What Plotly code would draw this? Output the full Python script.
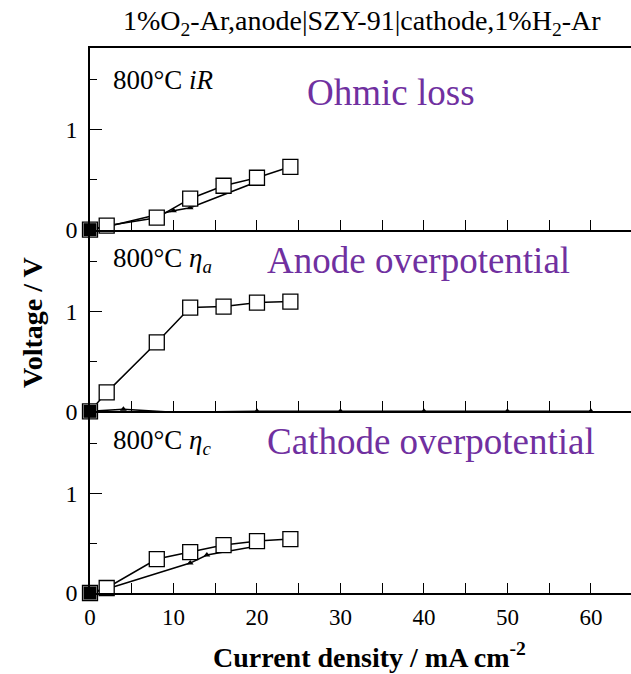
import plotly.graph_objects as go
from plotly.subplots import make_subplots

# ---- data ----
current = [0, 2, 8, 12, 16, 20, 24]
ohmic_open = [0, 0.04, 0.12, 0.31, 0.44, 0.52, 0.63]
anode_open = [0, 0.19, 0.69, 1.04, 1.05, 1.09, 1.10]
cathode_open = [0, 0.05, 0.34, 0.41, 0.48, 0.52, 0.54]

ohmic_fill_x = [0, 2, 10, 12, 20]
ohmic_fill_y = [0, 0.03, 0.19, 0.22, 0.48]
anode_fill_x = [0, 4, 10, 20, 30, 40, 50, 60]
anode_fill_y = [0, 0.02, -0.01, 0, 0, 0, 0, 0]
cathode_fill_x = [0, 2, 12, 14, 20]
cathode_fill_y = [0, 0.04, 0.30, 0.38, 0.47]

labels = ["800°C <i>iR</i>", "800°C <i>η<sub>a</sub></i>", "800°C <i>η<sub>c</sub></i>"]
names = ["Ohmic loss", "Anode overpotential", "Cathode overpotential"]
title = "1%O<sub>2</sub>-Ar,anode|SZY-91|cathode,1%H<sub>2</sub>-Ar"

SERIF = "Liberation Serif"
PURPLE = "#7030A0"

fig = make_subplots(rows=3, cols=1, shared_xaxes=True, vertical_spacing=0)

opens = [ohmic_open, anode_open, cathode_open]
fills = [(ohmic_fill_x, ohmic_fill_y), (anode_fill_x, anode_fill_y), (cathode_fill_x, cathode_fill_y)]

for i in range(3):
    r = i + 1
    fx, fy = fills[i]
    fig.add_trace(go.Scatter(x=fx, y=fy, mode="lines+markers",
                             line=dict(color="black", width=1.5),
                             marker=dict(symbol="triangle-up", size=6, color="black"),
                             showlegend=False, cliponaxis=False), row=r, col=1)
    fig.add_trace(go.Scatter(x=current, y=opens[i], mode="lines+markers",
                             line=dict(color="black", width=1.5),
                             marker=dict(symbol="square", size=15, color="white",
                                         line=dict(color="black", width=1.3)),
                             showlegend=False, cliponaxis=False), row=r, col=1)
    fig.add_trace(go.Scatter(x=[0], y=[0], mode="markers",
                             marker=dict(symbol="square", size=13, color="black"),
                             showlegend=False, cliponaxis=False), row=r, col=1)

for r in range(1, 4):
    fig.update_yaxes(row=r, col=1, range=[0, 1.82], tickvals=[0, 1],
                     ticks="inside", ticklen=12, tickwidth=1.2, tickcolor="black",
                     minor=dict(tickvals=[0.5, 1.5], ticks="inside", ticklen=7,
                                tickwidth=1.2, tickcolor="black"),
                     showline=True, linecolor="black", linewidth=1.5,
                     showgrid=False, zeroline=False, ticklabelstandoff=6,
                     tickfont=dict(family=SERIF, size=24, color="black"))
    fig.update_xaxes(row=r, col=1, range=[0, 64.8], tickvals=[0, 10, 20, 30, 40, 50, 60],
                     ticks="inside", ticklen=10, tickwidth=1.2, tickcolor="black",
                     minor=dict(tickvals=[5, 15, 25, 35, 45, 55], ticks="inside", ticklen=10,
                                tickwidth=1.2, tickcolor="black"),
                     showline=True, linecolor="black", linewidth=2,
                     mirror=(r == 1),
                     showgrid=False, zeroline=False,
                     showticklabels=(r == 3), ticklabelstandoff=2,
                     tickfont=dict(family=SERIF, size=23, color="black"))

# paper-coordinate helpers (plot area: x 90..631, y 48..593)
def px(x):
    return (x - 90) / 541.0

def py(y):
    return (593 - y) / 545.0

ann = []
lab_y = [80, 260, 442]
name_x = [305, 265, 265]
name_y = [92, 260, 442]
for i in range(3):
    ann.append(dict(text=labels[i], xref="paper", yref="paper", x=px(111), y=py(lab_y[i]),
                    xanchor="left", yanchor="middle", showarrow=False,
                    font=dict(family=SERIF, size=27, color="black")))
    ann.append(dict(text=names[i], xref="paper", yref="paper", x=px(name_x[i]), y=py(name_y[i]),
                    xanchor="left", yanchor="middle", showarrow=False,
                    font=dict(family=SERIF, size=37, color=PURPLE)))

ann.append(dict(text=title, xref="paper", yref="paper", x=px(362), y=py(22),
                xanchor="center", yanchor="middle", showarrow=False,
                font=dict(family=SERIF, size=28, color="black")))
ann.append(dict(text="<b>Voltage / V</b>", xref="paper", yref="paper", x=px(32), y=py(323),
                xanchor="center", yanchor="middle", showarrow=False, textangle=-90,
                font=dict(family=SERIF, size=28, color="black")))
ann.append(dict(text="<b>Current density / mA cm<sup>-2</sup></b>", xref="paper", yref="paper",
                x=px(369), y=py(655), xanchor="center", yanchor="middle", showarrow=False,
                font=dict(family=SERIF, size=28, color="black")))

fig.update_layout(width=631, height=674, margin=dict(l=90, r=0, t=48, b=81),
                  plot_bgcolor="white", paper_bgcolor="white", annotations=ann)

fig.write_html("out.html")
